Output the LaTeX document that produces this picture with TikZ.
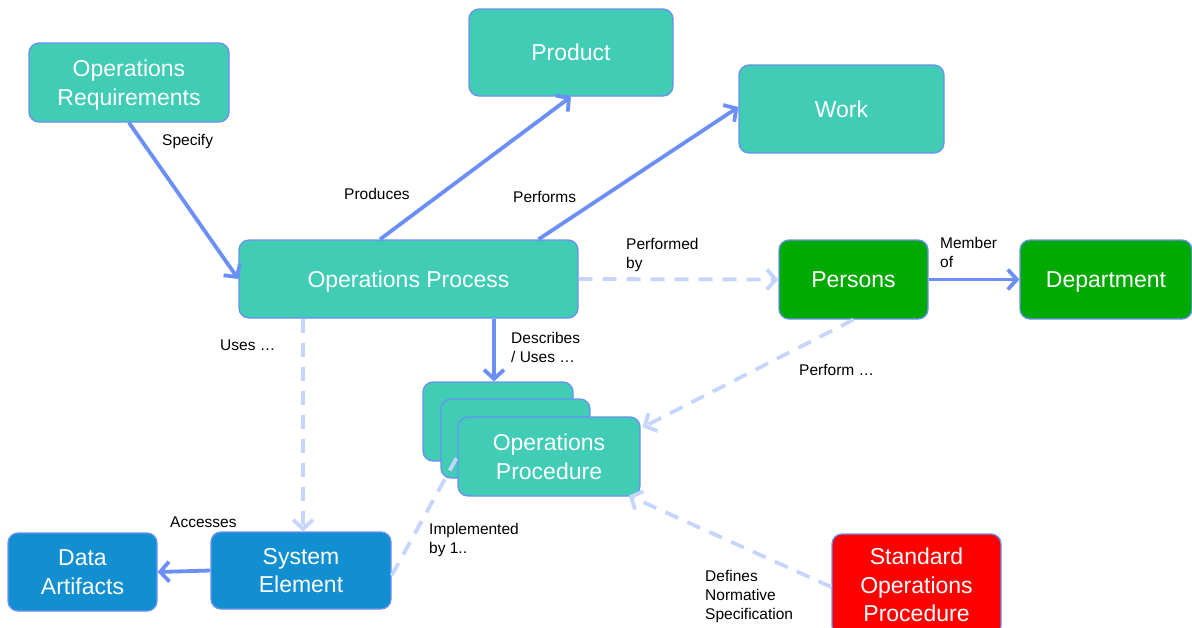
\documentclass[tikz,border=0pt]{standalone}
\usepackage{fontspec}
\setmainfont{Liberation Sans}
\usetikzlibrary{arrows.meta,positioning}
\definecolor{boxteal}{HTML}{40CCB5}
\definecolor{edgeblue}{HTML}{6B8FF6}
\definecolor{dashblue}{HTML}{C5D5FC}
\definecolor{persgreen}{HTML}{00AA00}
\definecolor{sysblue}{HTML}{118FD0}
\definecolor{sopred}{HTML}{FF0000}
\tikzset{
  ent/.style={draw=edgeblue, fill=boxteal, rounded corners=10pt, line width=1.3pt,
    inner sep=0pt, align=center, text=white, text depth=0pt,
    font=\fontsize{23}{28.5}\selectfont},
  actor/.style={ent, fill=persgreen},
  sysent/.style={ent, fill=sysblue},
  stdent/.style={ent, fill=sopred},
  rel/.style={-{Straight Barb[length=9pt,width=20pt]}, line width=3.8pt, color=edgeblue},
  weak/.style={rel, color=dashblue, dash pattern=on 14pt off 10pt},
  weakline/.style={line width=3.8pt, color=dashblue, dash pattern=on 14pt off 10pt},
  lbl/.style={font=\fontsize{15.5}{19}\selectfont, align=left, inner sep=0pt, anchor=west},
}

\begin{document}
\begin{tikzpicture}[x=1pt,y=-1pt]
  \useasboundingbox (0,0) rectangle (1192,627);

  % entities
  \node[ent, minimum width=200pt, minimum height=79pt] (req) at (129,82.5) {Operations\\Requirements};
  \node[ent, minimum width=204pt, minimum height=87pt] (product) at (571,52.5) {Product};
  \node[ent, minimum width=205pt, minimum height=88pt] (work) at (841.5,109) {Work};
  \node[ent, minimum width=339pt, minimum height=78pt] (opproc) at (408.5,279) {Operations Process};
  \node[actor, minimum width=149pt, minimum height=79pt] (persons) at (853.5,279.5) {Persons};
  \node[actor, minimum width=172pt, minimum height=79pt] (dept) at (1106,279.5) {Department};
  \node[ent, minimum width=150pt, minimum height=79pt] (procA) at (498,421.5) {};
  \node[ent, minimum width=149pt, minimum height=79pt] (procB) at (515.5,438.5) {};
  \node[ent, minimum width=182pt, minimum height=79pt] (proc) at (549,456.5) {Operations\\Procedure};
  \node[sysent, minimum width=180pt, minimum height=77pt] (sysel) at (301,570.5) {System\\Element};
  \node[sysent, minimum width=149pt, minimum height=78pt] (data) at (82.5,572) {Data\\Artifacts};
  \node[stdent, minimum width=169pt, minimum height=102pt] (sop) at (916.5,585) {Standard\\Operations\\Procedure};

  % relations
  \draw[rel] (req.south) -- (opproc.west);
  \draw[rel] ([xshift=-28.5pt]opproc.north) -- (product.south);
  \draw[rel] ([xshift=130pt]opproc.north) -- ([yshift=2pt]work.west);
  \draw[weak] (opproc.east) -- (persons.west);
  \draw[rel] (persons.east) -- (dept.west);
  \draw[rel] ([xshift=85.5pt]opproc.south) -- ([xshift=85.5pt]opproc.south |- procA.north);
  \draw[weak] ([xshift=-105.5pt]opproc.south) -- ([xshift=-105.5pt]opproc.south |- sysel.north);
  \draw[weak] (persons.south) -- ([xshift=2pt,yshift=-11pt]proc.north east);
  \draw[weakline] ([yshift=-5pt]sysel.east) -- (proc.west);
  \draw[weak] ([yshift=-2pt]sop.west) -- ([xshift=-12pt,yshift=1pt]proc.south east);
  \draw[rel] (sysel.west) -- (data.east);

  % labels
  \node[lbl] (lspecify) at (162,141) {Specify};
  \node[lbl] (lproduces) at (344,194) {Produces};
  \node[lbl] (lperforms) at (513,197) {Performs};
  \node[lbl] (lperfby) at (626,255) {Performed\\by};
  \node[lbl] (lmember) at (940,252.5) {Member\\of};
  \node[lbl] (ldescr) at (511,347) {Describes\\/ Uses …};
  \node[lbl] (luses) at (220,345) {Uses …};
  \node[lbl] (lperform) at (799,370) {Perform …};
  \node[lbl] (limpl) at (429,540) {Implemented\\by 1..};
  \node[lbl] (ldefines) at (705,596) {Defines\\Normative\\Specification};
  \node[lbl] (laccess) at (170,522) {Accesses};
\end{tikzpicture}
\end{document}
